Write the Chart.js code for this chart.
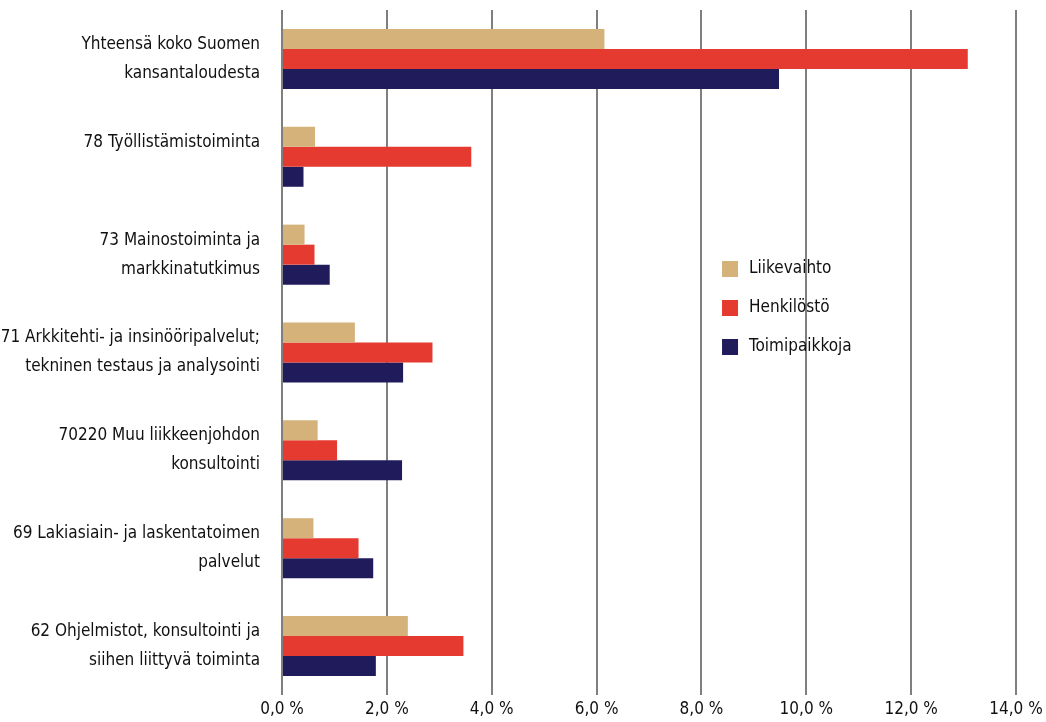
<!DOCTYPE html>
<html>
<head>
<meta charset="utf-8">
<script src="https://cdn.jsdelivr.net/npm/chart.js@4"></script>
<style>
  html, body { margin: 0; padding: 0; background: #fff; }
  #wrap { width: 1046px; height: 722px; }
</style>
</head>
<body>
<div id="wrap"><canvas id="chart"></canvas></div>
<script>
// --- data ---
const categories = [
  ['Yhteensä koko Suomen', 'kansantaloudesta'],
  ['78 Työllistämistoiminta', ''],
  ['73 Mainostoiminta ja', 'markkinatutkimus'],
  ['71 Arkkitehti- ja insinööripalvelut;', 'tekninen testaus ja analysointi'],
  ['70220 Muu liikkeenjohdon', 'konsultointi'],
  ['69 Lakiasiain- ja laskentatoimen', 'palvelut'],
  ['62 Ohjelmistot, konsultointi ja', 'siihen liittyvä toiminta']
];
const liikevaihto   = [6.15, 0.63, 0.43, 1.39, 0.68, 0.60, 2.40];
const henkilosto    = [13.08, 3.61, 0.62, 2.87, 1.05, 1.46, 3.46];
const toimipaikkoja = [9.48, 0.41, 0.91, 2.31, 2.29, 1.74, 1.79];
const seriesNames = ['Liikevaihto', 'Henkilöstö', 'Toimipaikkoja'];

const FONT = "'Liberation Sans Narrow', 'DejaVu Sans Condensed', sans-serif";
const colors = ['#D4B27A', '#E53A30', '#201C5C'];

// legend drawn inside the plot area
const innerLegend = {
  id: 'innerLegend',
  afterDraw(chart) {
    const ctx = chart.ctx;
    const area = chart.chartArea;
    const x0 = area.left + (area.right - area.left) * 0.5995;
    const y0 = area.top + 259;
    ctx.save();
    ctx.font = '17px ' + FONT;
    ctx.textBaseline = 'middle';
    chart.data.datasets.forEach((ds, i) => {
      const y = y0 + i * 39;
      ctx.fillStyle = ds.backgroundColor;
      ctx.fillRect(x0, y - 8, 16, 16);
      ctx.fillStyle = '#111';
      ctx.fillText(ds.label, x0 + 27, y);
    });
    ctx.restore();
  }
};

new Chart(document.getElementById('chart'), {
  type: 'bar',
  data: {
    labels: categories,
    datasets: [
      { label: seriesNames[0], data: liikevaihto, backgroundColor: colors[0] },
      { label: seriesNames[1], data: henkilosto, backgroundColor: colors[1] },
      { label: seriesNames[2], data: toimipaikkoja, backgroundColor: colors[2] }
    ]
  },
  options: {
    indexAxis: 'y',
    responsive: true,
    maintainAspectRatio: false,
    animation: false,
    layout: { padding: { top: 10, right: 30, left: 0, bottom: 0 } },
    datasets: { bar: { barPercentage: 1, categoryPercentage: 0.613, borderWidth: 0 } },
    plugins: {
      legend: { display: false },
      tooltip: { enabled: false }
    },
    scales: {
      x: {
        min: 0,
        max: 14,
        afterFit: s => { s.paddingRight = 0; s.paddingLeft = 0; s.height = 27; },
        ticks: {
          stepSize: 2,
          color: '#111',
          padding: 4,
          font: { family: FONT, size: 17 },
          callback: v => v.toFixed(1).replace('.', ',') + ' %'
        },
        grid: { color: '#7f7f7f', lineWidth: 2, drawTicks: false },
        border: { display: false }
      },
      y: {
        afterFit: s => { s.width = 282; s.paddingTop = 0; s.paddingBottom = 0; },
        ticks: {
          color: '#111',
          padding: 22,
          font: { family: FONT, size: 17, lineHeight: 1.7 }
        },
        grid: { display: false, drawTicks: false },
        border: { display: false }
      }
    }
  },
  plugins: [innerLegend]
});
</script>
</body>
</html>
